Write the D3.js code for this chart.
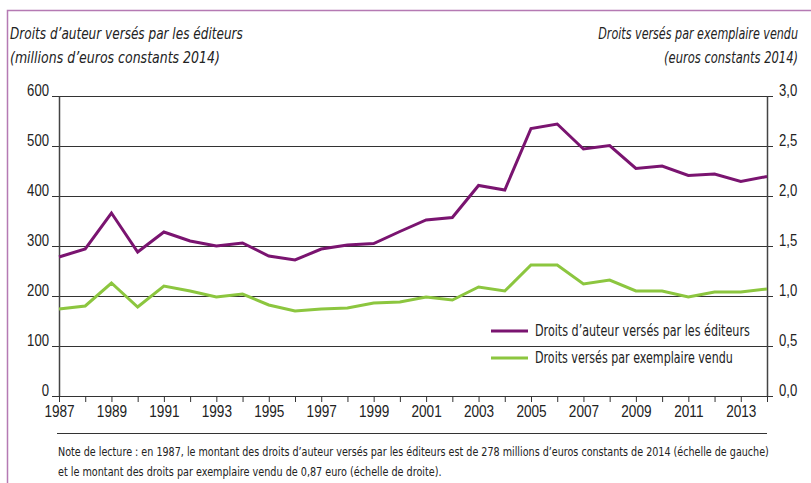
<!DOCTYPE html>
<meta charset="utf-8">
<html>
<head>
<style>
body { margin: 0; background: #fff; }
svg text { font-family: "DejaVu Sans Condensed", "Liberation Sans Narrow", sans-serif; fill: #222; }
</style>
</head>
<body>
<svg class="chart" width="811" height="483"></svg>
<script src="https://cdn.jsdelivr.net/npm/d3@7"></script>
<script>

const years = d3.range(1987, 2015)
const yearLabels = [1987,1989,1991,1993,1995,1997,1999,2001,2003,2005,2007,2009,2011,2013]

// millions d'euros constants 2014 (left scale)
const droitsAuteur = [278,294,366,288,328,310,300,306,280,272,294,302,305,329,352,357,421,412,535,544,494,501,455,460,441,444,429,439]
// euros par exemplaire vendu (right scale)
const droitsExemplaire = [0.87,0.90,1.13,0.89,1.10,1.05,0.99,1.02,0.91,0.85,0.87,0.88,0.93,0.94,0.99,0.96,1.09,1.05,1.31,1.31,1.12,1.16,1.05,1.05,0.99,1.04,1.04,1.07]

const leftTicks = [0,100,200,300,400,500,600]
const rightTicks = [0,0.5,1,1.5,2,2.5,3]

const series = [
  {name:"Droits d\u2019auteur versés par les éditeurs", values:droitsAuteur, axis:"left", color:"#7a1470", w:215},
  {name:"Droits versés par exemplaire vendu", values:droitsExemplaire, axis:"right", color:"#8cc63f", w:198}
]

const svg = d3.select("svg.chart")
const mLeft = 59, mRight = 767, mTop = 96, mBottom = 396

const x = d3.scaleLinear().domain([1987, 2014]).range([mLeft, mRight])
const yL = d3.scaleLinear().domain([0, 600]).range([mBottom, mTop])
const yR = d3.scaleLinear().domain([0, 3]).range([mBottom, mTop])
const fmtR = (d) => d3.format(".1f")(d).replace(".", ",")

// the original uses a condensed font: squeeze text horizontally around its anchor
function squeezeEl(el, k) {
  const x0 = +(el.getAttribute("x") || 0)
  el.setAttribute("x", 0)
  el.setAttribute("transform", "translate(" + x0 + ",0) scale(" + k + ",1)")
}
function squeeze(sel, k) {
  sel.each(function() { squeezeEl(this, k) })
}
function fit(sel, w) {
  sel.each(function() {
    const len = this.getComputedTextLength()
    if (len > 0) squeezeEl(this, w / len)
  })
}

// frame
svg.append("path")
  .attr("d", "M7.5,483 L7.5,10.5 L811,10.5")
  .attr("fill", "none")
  .attr("stroke", "#b57ab3")
  .attr("stroke-width", 1.5)

// titles
const titles = svg.append("g").attr("font-style", "italic").attr("font-size", 16)
fit(titles.append("text").attr("x", 10).attr("y", 39).text("Droits d\u2019auteur versés par les éditeurs"), 233)
fit(titles.append("text").attr("x", 10).attr("y", 63).text("(millions d\u2019euros constants 2014)"), 210)
fit(titles.append("text").attr("x", 798).attr("y", 39).attr("text-anchor", "end").text("Droits versés par exemplaire vendu"), 200)
fit(titles.append("text").attr("x", 798).attr("y", 63).attr("text-anchor", "end").text("(euros constants 2014)"), 134)

// gridlines
svg.append("g").selectAll("line")
  .data(leftTicks)
  .join("line")
  .attr("x1", 52).attr("x2", 773)
  .attr("y1", (d) => Math.round(yL(d)) + 0.5)
  .attr("y2", (d) => Math.round(yL(d)) + 0.5)
  .attr("stroke", "#333").attr("stroke-width", 1)

// left axis
const axL = svg.append("g").attr("transform", "translate(" + mLeft + ",0)")
  .call(d3.axisLeft(yL).tickValues(leftTicks).tickSize(0).tickPadding(10))
axL.select(".domain").attr("stroke", "#444").attr("stroke-width", 1.5)
axL.selectAll("text").attr("font-size", 16).attr("dy", "-0.02em").attr("x", -10)
  .attr("font-family", null).style("font-family", "inherit")
squeeze(axL.selectAll("text"), 0.82)

// right axis
const axR = svg.append("g").attr("transform", "translate(" + mRight + ",0)")
  .call(d3.axisRight(yR).tickValues(rightTicks).tickFormat(fmtR).tickSize(0).tickPadding(12))
axR.select(".domain").attr("stroke", "#444").attr("stroke-width", 1.5)
axR.selectAll("text").attr("font-size", 16).attr("dy", "-0.02em")
  .attr("font-family", null).style("font-family", "inherit")
squeeze(axR.selectAll("text"), 0.82)

// bottom axis
const axB = svg.append("g").attr("transform", "translate(0," + mBottom + ")")
  .call(d3.axisBottom(x).tickValues(years).tickSize(6).tickFormat((d) => yearLabels.includes(d) ? d : "").tickPadding(4))
axB.select(".domain").attr("stroke", "#333")
axB.selectAll(".tick line").attr("stroke", "#333")
axB.selectAll("text").attr("font-size", 16)
  .attr("font-family", null).style("font-family", "inherit")
squeeze(axB.selectAll("text"), 0.85)

// lines
series.forEach((s) => {
  const y = s.axis == "left" ? yL : yR
  svg.append("path")
    .datum(s.values)
    .attr("fill", "none")
    .attr("stroke", s.color)
    .attr("stroke-width", 3)
    .attr("d", d3.line().x((d, i) => x(years[i])).y((d) => y(d)))
})

// legend
const legend = svg.append("g").selectAll("g")
  .data(series)
  .join("g")
  .attr("transform", (d, i) => "translate(491," + (331 + i * 27) + ")")
legend.append("line").attr("x1", 0).attr("x2", 37)
  .attr("stroke", (d) => d.color).attr("stroke-width", 3)
legend.append("text").attr("x", 44).attr("dy", "0.35em").attr("font-size", 15.5).text((d) => d.name)
  .each(function(d) { fit(d3.select(this), d.w) })

// note
svg.append("line").attr("x1", 57).attr("x2", 767).attr("y1", 433.5).attr("y2", 433.5)
  .attr("stroke", "#333")
const note = svg.append("g").attr("font-size", 13)
fit(note.append("text").attr("x", 58).attr("y", 456)
  .text("Note de lecture : en 1987, le montant des droits d\u2019auteur versés par les éditeurs est de 278 millions d\u2019euros constants de 2014 (échelle de gauche)"), 712)
fit(note.append("text").attr("x", 58).attr("y", 476)
  .text("et le montant des droits par exemplaire vendu de 0,87 euro (échelle de droite)."), 384)
</script>
</body>
</html>
